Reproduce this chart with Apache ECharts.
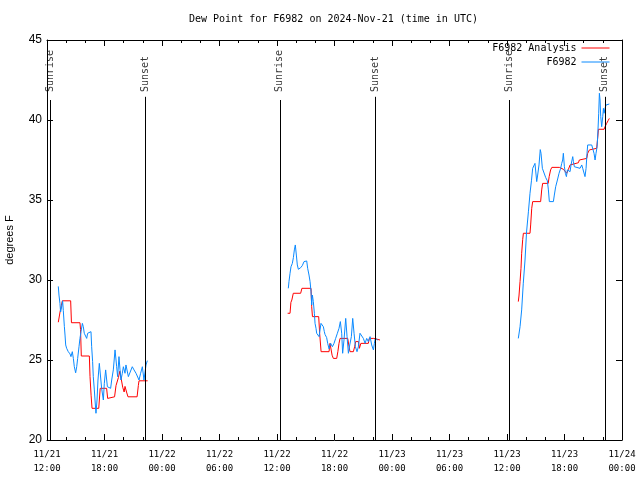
<!DOCTYPE html>
<html><head><meta charset="utf-8">
<script src="https://cdn.jsdelivr.net/npm/echarts/dist/echarts.min.js"></script>
<style>html,body{margin:0;padding:0;background:#fff}#c{width:640px;height:480px}</style>
</head><body><div id="c"></div>
<script>
// hours since 2024-11-21 00:00 UTC, dew point in degrees F
const xTickLabels = ['11/21\n12:00','11/21\n18:00','11/22\n00:00','11/22\n06:00','11/22\n12:00','11/22\n18:00','11/23\n00:00','11/23\n06:00','11/23\n12:00','11/23\n18:00','11/24\n00:00'];
const yTickValues = [20,25,30,35,40,45];

const analysisDay1 = [[13.18,27.36],[13.30,27.36],[13.36,28.0],[13.50,28.4],[13.60,28.7],[14.47,28.7],[14.55,27.33],[15.44,27.33],[15.50,26.9],[15.58,25.25],[16.42,25.25],[16.49,23.96],[16.60,22.8],[16.70,21.98],[17.40,21.98],[17.55,23.23],[18.22,23.23],[18.33,22.6],[18.45,22.7],[19.05,22.7],[19.20,23.4],[19.45,23.9],[19.60,24.3],[19.80,24.3],[19.90,23.3],[20.05,23.0],[20.14,23.35],[20.30,23.0],[20.45,22.7],[21.40,22.7],[21.53,23.4],[21.60,23.7],[22.50,23.7]];
const analysisDay2 = [[37.11,27.92],[37.36,27.92],[37.45,28.6],[37.55,28.75],[37.70,29.17],[38.47,29.17],[38.60,29.48],[39.55,29.48],[39.62,28.33],[39.70,27.71],[40.35,27.71],[40.45,26.67],[40.60,25.52],[41.43,25.52],[41.53,26.04],[41.63,26.04],[41.75,25.3],[41.88,25.1],[42.23,25.1],[42.35,25.52],[42.47,26.04],[42.58,26.35],[43.38,26.35],[43.52,25.83],[43.62,25.52],[43.97,25.52],[44.10,25.83],[44.21,26.15],[44.50,26.15],[44.60,25.73],[44.75,26.04],[45.53,26.04],[45.63,26.35],[46.10,26.35],[46.20,26.25],[46.75,26.25]];
const analysisDay3 = [[61.18,28.65],[61.25,29.0],[61.36,29.9],[61.46,30.73],[61.53,31.67],[61.64,32.54],[61.71,32.92],[62.40,32.92],[62.47,33.44],[62.58,34.48],[62.68,34.9],[63.51,34.9],[63.62,35.63],[63.72,36.04],[64.30,36.04],[64.40,36.46],[64.55,36.88],[64.68,37.04],[65.46,37.04],[65.60,36.98],[65.88,36.92],[66.05,36.8],[66.23,36.67],[66.40,36.9],[66.58,37.19],[66.70,37.3],[67.45,37.33],[67.55,37.5],[67.70,37.6],[68.32,37.6],[68.42,37.92],[68.60,38.13],[68.67,38.23],[69.36,38.23],[69.45,38.8],[69.54,39.42],[70.13,39.42],[70.23,39.58],[70.40,39.79],[70.55,39.96],[70.68,40.1]];

const stationDay1 = [[13.18,29.6],[13.25,29.06],[13.35,28.54],[13.42,28.0],[13.53,28.33],[13.63,28.7],[13.70,28.1],[13.81,27.1],[13.88,26.56],[13.95,25.94],[14.05,25.73],[14.22,25.52],[14.40,25.38],[14.50,25.21],[14.64,25.52],[14.75,25.1],[14.85,24.58],[14.99,24.2],[15.10,24.58],[15.20,25.1],[15.34,25.83],[15.44,26.35],[15.55,26.77],[15.69,27.29],[15.79,27.08],[15.89,26.67],[16.03,26.56],[16.14,26.35],[16.24,26.67],[16.38,26.77],[16.59,26.77],[16.66,25.83],[16.76,24.9],[16.83,23.96],[16.94,23.13],[17.01,22.5],[17.11,21.67],[17.22,22.5],[17.32,23.75],[17.46,24.79],[17.63,24.79],[17.70,23.23],[17.88,22.5],[17.98,23.54],[18.12,24.38],[18.30,23.33],[18.40,23.23],[18.64,23.23],[18.75,23.75],[18.92,24.38],[19.10,25.63],[19.27,24.58],[19.37,23.96],[19.51,25.21],[19.62,24.38],[19.72,23.75],[19.86,24.17],[19.97,24.58],[20.14,24.17],[20.24,24.69],[20.49,23.96],[20.66,23.85],[20.90,24.58],[21.08,24.38],[21.29,24.17],[21.60,23.75],[21.77,24.17],[21.95,24.58],[22.12,23.75],[22.33,24.69],[22.47,24.96]];
const stationDay2 = [[37.18,29.48],[37.25,29.9],[37.36,30.42],[37.46,30.83],[37.60,31.04],[37.71,31.4],[37.81,31.88],[37.91,32.19],[38.02,31.56],[38.12,30.94],[38.23,30.67],[38.33,30.73],[38.47,30.77],[38.64,30.9],[38.82,31.15],[38.99,31.25],[39.10,31.19],[39.20,30.73],[39.34,30.31],[39.45,29.9],[39.55,29.27],[39.62,28.44],[39.69,29.06],[39.79,28.65],[39.90,27.92],[39.97,27.29],[40.07,26.98],[40.14,26.67],[40.25,26.56],[40.39,26.46],[40.49,26.88],[40.59,27.29],[40.73,27.19],[40.84,27.08],[40.94,26.77],[41.01,26.6],[41.18,26.4],[41.29,26.04],[41.43,25.7],[41.60,26.04],[41.78,25.83],[41.95,26.04],[42.12,26.35],[42.30,26.67],[42.47,26.98],[42.61,27.4],[42.75,26.67],[42.85,25.42],[42.99,26.25],[43.17,27.6],[43.31,26.46],[43.45,25.42],[43.59,25.94],[43.76,26.46],[43.90,27.6],[44.04,26.67],[44.18,25.83],[44.35,25.52],[44.49,25.83],[44.66,26.67],[44.84,26.56],[45.01,26.35],[45.19,26.04],[45.36,26.35],[45.53,26.15],[45.71,26.46],[45.88,25.94],[46.06,25.63],[46.16,26.04],[46.26,26.35],[46.40,26.25],[46.51,26.25]];
const stationDay3 = [[61.18,26.35],[61.36,27.08],[61.53,28.13],[61.70,29.8],[61.88,31.25],[62.04,33.0],[62.24,34.3],[62.40,35.42],[62.55,36.2],[62.68,36.98],[62.82,36.98],[62.92,37.29],[63.10,36.15],[63.20,36.56],[63.34,37.19],[63.47,38.15],[63.55,37.92],[63.69,36.98],[63.86,36.88],[64.04,36.4],[64.21,36.2],[64.32,35.63],[64.42,34.9],[64.84,34.9],[64.94,35.31],[65.08,35.83],[65.26,36.25],[65.43,36.67],[65.60,36.98],[65.71,37.29],[65.81,37.5],[65.88,37.92],[65.99,37.08],[66.09,36.67],[66.20,36.46],[66.30,36.88],[66.47,36.98],[66.58,36.77],[66.68,37.19],[66.86,37.71],[66.93,37.4],[67.03,37.08],[67.20,36.98],[67.62,36.98],[67.80,37.19],[67.90,36.98],[68.04,36.88],[68.14,36.46],[68.25,36.98],[68.35,37.92],[68.42,38.44],[68.84,38.44],[68.94,38.33],[69.08,37.92],[69.19,37.5],[69.29,37.92],[69.40,38.33],[69.47,39.06],[69.57,40.42],[69.64,41.67],[69.71,41.25],[69.78,40.21],[69.88,39.58],[69.99,40.21],[70.06,40.73],[70.13,40.42],[70.23,40.73],[70.34,40.94],[70.48,41.0],[70.68,41.0]];

const sunriseHours = [12.33, 36.3, 60.28];
const sunsetHours = [22.28, 46.3, 70.2];

const GAP = '-';
function joinDays(days){
  let out = [];
  days.forEach((d,i)=>{ if(i>0) out.push([d[0][0]-0.5, GAP]); out = out.concat(d); });
  return out;
}

const mono = 'DejaVu Sans Mono';
const blk = '#000';
function xAx(pos, showLabel){
  return {
    type:'value', min:12, max:72, interval:6, position:pos, gridIndex:0,
    axisLine:{show:true, onZero:false, lineStyle:{color:blk, width:1}},
    axisTick:{show:true, inside:true, length:6, lineStyle:{color:blk}},
    minorTick:{show:true, splitNumber:3, length:3, lineStyle:{color:blk}},
    splitLine:{show:false},
    axisLabel:{show:showLabel, showMinLabel:true, showMaxLabel:true, hideOverlap:false,
      formatter:v=>xTickLabels[Math.round((v-12)/6)],
      fontFamily:mono, fontSize:9, color:blk, lineHeight:14, margin:8}
  };
}
function yAx(pos, showLabel){
  const a = {
    type:'value', min:yTickValues[0], max:yTickValues[yTickValues.length-1], interval:5, position:pos,
    axisLine:{show:true, onZero:false, lineStyle:{color:blk, width:1}},
    axisTick:{show:true, inside:true, length:6, lineStyle:{color:blk}},
    splitLine:{show:false},
    axisLabel:{show:showLabel, showMinLabel:true, showMaxLabel:true,
      fontFamily:'Liberation Sans', fontSize:12, color:blk, margin:5}
  };
  if(showLabel){
    a.name='degrees F'; a.nameLocation='middle'; a.nameRotate=90; a.nameGap=32;
    a.nameTextStyle={fontFamily:'Liberation Sans', fontSize:11, color:blk};
  }
  return a;
}

const sunLineData = sunriseHours.map(h=>[{coord:[h,20]},{coord:[h,41.25]}])
  .concat(sunsetHours.map(h=>[{coord:[h,20]},{coord:[h,41.45]}]));
const sunLabelData = sunriseHours.map(h=>[h,41.75,'Sunrise']).concat(sunsetHours.map(h=>[h,41.75,'Sunset']));

const chart = echarts.init(document.getElementById('c'), null, {renderer:'canvas'});
chart.setOption({
  animation:false,
  backgroundColor:'#fff',
  title:{text:'Dew Point for F6982 on 2024-Nov-21 (time in UTC)', left:189, top:14, padding:0,
    textStyle:{fontFamily:mono, fontSize:10, fontWeight:'normal', color:blk}},
  legend:{data:['F6982 Analysis','F6982'], orient:'vertical', right:30, top:43, padding:0,
    align:'right', itemWidth:28, itemHeight:10, itemGap:4, selectedMode:false,
    itemStyle:{opacity:0}, lineStyle:{width:1},
    textStyle:{fontFamily:mono, fontSize:10, color:blk}},
  grid:{left:47, right:18, top:40, bottom:40, containLabel:false, outerBoundsMode:'none'},
  xAxis:[xAx('bottom',true), xAx('top',false)],
  yAxis:[yAx('left',true), yAx('right',false)],
  series:[
    {name:'F6982 Analysis', type:'line', data:joinDays([analysisDay1,analysisDay2,analysisDay3]),
      showSymbol:false, symbol:'none', connectNulls:false, z:3,
      lineStyle:{color:'#ff0000', width:1}, itemStyle:{color:'#ff0000'}},
    {name:'F6982', type:'line', data:joinDays([stationDay1,stationDay2,stationDay3]),
      showSymbol:false, symbol:'none', connectNulls:false, z:4,
      lineStyle:{color:'#0a8aff', width:1}, itemStyle:{color:'#0a8aff'}},
    {name:'sun', type:'scatter', data:sunLabelData, symbolSize:0, z:5, silent:true,
      label:{show:true, formatter:p=>p.value[2], rotate:90, position:'inside', align:'left', verticalAlign:'middle',
        fontFamily:mono, fontSize:10, color:blk},
      markLine:{silent:true, symbol:['none','none'], animation:false,
        lineStyle:{color:blk, width:1, type:'solid'}, label:{show:false}, emphasis:{disabled:true},
        data:sunLineData}}
  ]
});
</script></body></html>
